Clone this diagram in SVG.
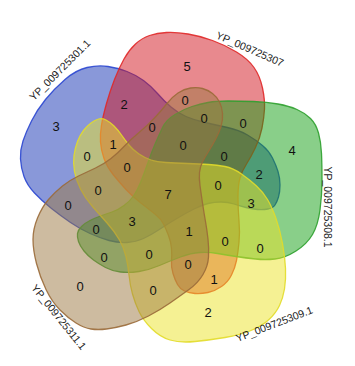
<svg xmlns="http://www.w3.org/2000/svg" width="355" height="366" viewBox="0 0 355 366">
<style>
.set{stroke-width:1.3;fill-opacity:0.5;stroke-opacity:0.9}
.n{font-family:"Liberation Sans",Arial,sans-serif;font-size:13px;text-anchor:middle;fill:#111}
.lab{font-family:"Liberation Sans",Arial,sans-serif;font-size:10.5px;text-anchor:middle;fill:#222}
</style>
<rect width="355" height="366" fill="#fff"/>
<g id="set-blue">
<path class="set" fill="rgb(20,50,180)" stroke="#2a46d0" d="M275,205 Q273,208 268,209 Q263,210 257.5,209.5 Q252,209 246,207.5 Q240,206 234,204 Q228,202 221,202 Q214,202 208,203.5 Q202,205 194,209 Q186,213 176,219 Q166,225 158.5,230 Q151,235 143.5,238.5 Q136,242 127,242.5 Q118,243 109,240.5 Q100,238 90,233.5 Q80,229 70.5,222.5 Q61,216 51.5,208.5 Q42,201 34.5,193 Q27,185 24,176.5 Q21,168 20.5,159 Q20,150 23,141 Q26,132 31.5,121 Q37,110 45.5,99.5 Q54,89 65,79.5 Q76,70 87,67.5 Q98,65 108,66.5 Q118,68 127,71.5 Q136,75 143.5,80.5 Q151,86 157.5,93.5 Q164,101 171,107 Q178,113 186,116.5 Q194,120 205,122.5 Q216,125 227.5,127.5 Q239,130 247.5,135 Q256,140 262.5,145.5 Q269,151 272.5,158 Q276,165 278,171.5 Q280,178 280,185 Q280,192 278.5,197 Q277,202 275,205 Z"/>
<text class="lab" transform="translate(62.5,72.5) rotate(-45)">YP_009725301.1</text>
</g>
<g id="set-red">
<path class="set" fill="rgb(210,20,30)" stroke="#e02828" d="M184.5,291 Q180,289 177.5,284.5 Q175,280 173,273.5 Q171,267 171.5,261 Q172,255 171.5,248.5 Q171,242 168.5,235.5 Q166,229 163.5,224 Q161,219 155.5,214.5 Q150,210 141.5,203.5 Q133,197 126.5,190 Q120,183 113.5,175 Q107,167 104,158.5 Q101,150 100.5,142 Q100,134 101.5,125 Q103,116 106.5,103.5 Q110,91 114.5,79.5 Q119,68 124,59 Q129,50 135.5,44 Q142,38 149.5,35.5 Q157,33 166.5,32.5 Q176,32 188,34 Q200,36 212.5,40.5 Q225,45 236.5,52 Q248,59 254,67.5 Q260,76 262.5,88 Q265,100 264.5,109 Q264,118 262,128 Q260,138 255.5,147.5 Q251,157 246.5,164 Q242,171 240,178 Q238,185 238,197 Q238,209 239,220.5 Q240,232 239,242.5 Q238,253 236.5,260.5 Q235,268 231.5,275 Q228,282 221.5,286.5 Q215,291 208,292.5 Q201,294 195,293.5 Q189,293 184.5,291 Z"/>
<text class="lab" transform="translate(248.5,52.4) rotate(23.6)">YP_009725307</text>
</g>
<g id="set-green">
<path class="set" fill="rgb(20,160,20)" stroke="#2ea02e" d="M77.5,233.5 Q78,230 81.5,226.5 Q85,223 90,220.5 Q95,218 100.5,216 Q106,214 112,212 Q118,210 124,205.5 Q130,201 133.5,196 Q137,191 140.5,182.5 Q144,174 148,162.5 Q152,151 155.5,143 Q159,135 162.5,127.5 Q166,120 175,114.5 Q184,109 192,106.5 Q200,104 208,102.5 Q216,101 228,101 Q240,101 253.5,101.5 Q267,102 278,104 Q289,106 297,109.5 Q305,113 310.5,118.5 Q316,124 318.5,133 Q321,142 321.5,153.5 Q322,165 322,180 Q322,195 320,210 Q318,225 312.5,234.5 Q307,244 296,251 Q285,258 275,259 Q265,260 255.5,259 Q246,258 236,256.5 Q226,255 217.5,253.5 Q209,252 200,252.5 Q191,253 180.5,257 Q170,261 159.5,265.5 Q149,270 139,271.5 Q129,273 120.5,272 Q112,271 105.5,267.5 Q99,264 93.5,260 Q88,256 84,251 Q80,246 78.5,241.5 Q77,237 77.5,233.5 Z"/>
<text class="lab" transform="translate(324.3,207) rotate(90)">YP_009725308.1</text>
</g>
<g id="set-yellow">
<path class="set" fill="rgb(235,228,40)" stroke="#e2dc2a" d="M98.5,119 Q102,118 106,120 Q110,122 114,126 Q118,130 121.5,135 Q125,140 129,145 Q133,150 139,154 Q145,158 151,160 Q157,162 166,162.5 Q175,163 187.5,163.5 Q200,164 208.5,164.5 Q217,165 225,166.5 Q233,168 241.5,174 Q250,180 256.5,186 Q263,192 267.5,199.5 Q272,207 276,218.5 Q280,230 282.5,243.5 Q285,257 285.5,268.5 Q286,280 284.5,289 Q283,298 279.5,305.5 Q276,313 269,319.5 Q262,326 251,330.5 Q240,335 225,337.5 Q210,340 195,341.5 Q180,343 170,340 Q160,337 151.5,328.5 Q143,320 139,311.5 Q135,303 132.5,294 Q130,285 129,275 Q128,265 126,256.5 Q124,248 119.5,240 Q115,232 107.5,223.5 Q100,215 92.5,206.5 Q85,198 80.5,189 Q76,180 74.5,171.5 Q73,163 74,155.5 Q75,148 77.5,141.5 Q80,135 83.5,130.5 Q87,126 91,123 Q95,120 98.5,119 Z"/>
<text class="lab" transform="translate(275.5,327.5) rotate(-21)">YP_009725309.1</text>
</g>
<g id="set-brown">
<path class="set" fill="rgb(155,120,65)" stroke="#9a6a38" d="M219.5,102 Q222,107 222.5,113.5 Q223,120 221,126.5 Q219,133 215.5,139.5 Q212,146 208.5,151.5 Q205,157 202.5,162 Q200,167 199.5,172.5 Q199,178 200,185.5 Q201,193 202.5,203 Q204,213 205.5,221.5 Q207,230 208,239 Q209,248 208.5,257 Q208,266 203,274.5 Q198,283 189,289.5 Q180,296 170,303 Q160,310 148.5,316 Q137,322 126,325 Q115,328 106.5,329 Q98,330 91,329 Q84,328 76,323 Q68,318 60,310 Q52,302 46,289.5 Q40,277 36.5,263.5 Q33,250 33,239.5 Q33,229 37.5,218 Q42,207 48.5,199.5 Q55,192 62.5,186 Q70,180 78.5,176 Q87,172 95.5,168 Q104,164 111,158.5 Q118,153 124,146.5 Q130,140 138.5,133 Q147,126 154.5,118 Q162,110 167,103.5 Q172,97 178,93 Q184,89 190.5,88 Q197,87 202.5,88.5 Q208,90 212.5,93.5 Q217,97 219.5,102 Z"/>
<text class="lab" transform="translate(56,319.3) rotate(51.3)">YP_009725311.1</text>
</g>
<g id="counts">
<text class="n" x="56" y="130.5">3</text>
<text class="n" x="187" y="70.5">5</text>
<text class="n" x="124" y="108.5">2</text>
<text class="n" x="185" y="104.5">0</text>
<text class="n" x="152" y="131.5">0</text>
<text class="n" x="204" y="122.5">0</text>
<text class="n" x="243" y="127.5">0</text>
<text class="n" x="113" y="148.5">1</text>
<text class="n" x="87" y="160.5">0</text>
<text class="n" x="183" y="149.5">0</text>
<text class="n" x="127" y="171.5">0</text>
<text class="n" x="224" y="160.5">0</text>
<text class="n" x="292" y="154.5">4</text>
<text class="n" x="259" y="178.5">2</text>
<text class="n" x="98" y="194.5">0</text>
<text class="n" x="168" y="198.5">7</text>
<text class="n" x="218" y="189.5">0</text>
<text class="n" x="251" y="207.5">3</text>
<text class="n" x="68" y="209.5">0</text>
<text class="n" x="132" y="225.5">3</text>
<text class="n" x="96" y="233.5">0</text>
<text class="n" x="189" y="235.5">1</text>
<text class="n" x="225" y="245.5">0</text>
<text class="n" x="260" y="252.5">0</text>
<text class="n" x="104" y="261.5">0</text>
<text class="n" x="149" y="258.5">0</text>
<text class="n" x="188" y="268.5">0</text>
<text class="n" x="214" y="283.5">1</text>
<text class="n" x="80" y="290.5">0</text>
<text class="n" x="153" y="294.5">0</text>
<text class="n" x="208" y="316.5">2</text>
</g>
</svg>
